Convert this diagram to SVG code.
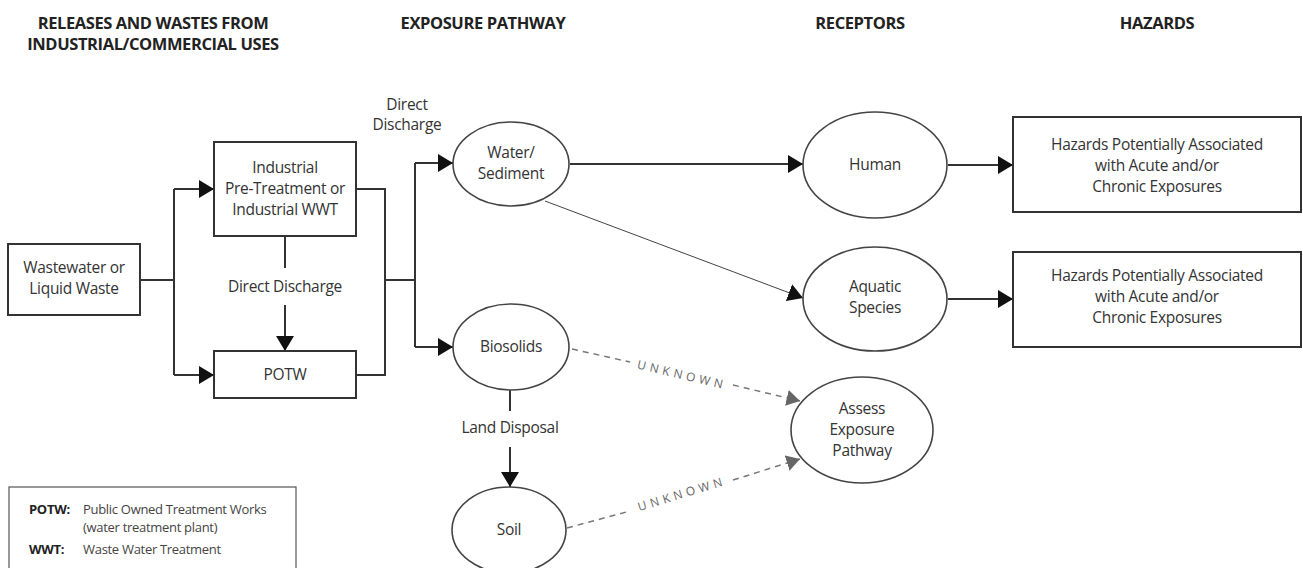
<svg xmlns="http://www.w3.org/2000/svg" width="1303" height="568" viewBox="0 0 1303 568">
<style>
.t{font-family:"Open Sans","Liberation Sans",sans-serif;font-size:15.5px;fill:#333;text-anchor:middle;letter-spacing:-0.3px}
.h{font-family:"Open Sans","Liberation Sans",sans-serif;font-size:16.5px;font-weight:bold;fill:#222;text-anchor:middle;letter-spacing:-0.4px}
.box{fill:#fff;stroke:#333;stroke-width:2}
.ell{fill:#fff;stroke:#444;stroke-width:1.6}
.c{fill:none;stroke:#333;stroke-width:2}
.thin{fill:none;stroke:#444;stroke-width:1}
.d{fill:none;stroke:#777;stroke-width:1.5;stroke-dasharray:6 5}
.u{font-family:"Open Sans","Liberation Sans",sans-serif;font-size:12px;fill:#666;text-anchor:middle;letter-spacing:4px}
.lg{font-family:"Open Sans","Liberation Sans",sans-serif;font-size:13px;fill:#444;letter-spacing:-0.3px}
.lb{font-family:"Open Sans","Liberation Sans",sans-serif;font-size:13px;fill:#222;font-weight:bold;letter-spacing:-0.3px}
</style>
<defs>
<marker id="a" viewBox="0 0 10 12" refX="10" refY="6" markerWidth="7.5" markerHeight="9" orient="auto" markerUnits="strokeWidth"><path d="M0,0 L10,6 L0,12 z" fill="#111"/></marker>
<marker id="ag" viewBox="0 0 10 12" refX="10" refY="6" markerWidth="9" markerHeight="10.8" orient="auto" markerUnits="strokeWidth"><path d="M0,0 L10,6 L0,12 z" fill="#666"/></marker>
<marker id="at" viewBox="0 0 10 12" refX="10" refY="6" markerWidth="15" markerHeight="18" orient="auto" markerUnits="strokeWidth"><path d="M0,0 L10,6 L0,12 z" fill="#111"/></marker>
</defs>
<rect width="1303" height="568" fill="#fff"/>
<g id="titles">
<text class="h" x="153" y="29">RELEASES AND WASTES FROM</text>
<text class="h" x="153" y="50">INDUSTRIAL/COMMERCIAL USES</text>
<text class="h" x="483" y="29">EXPOSURE PATHWAY</text>
<text class="h" x="860" y="29">RECEPTORS</text>
<text class="h" x="1157" y="29">HAZARDS</text>
</g>
<g id="connectors">
<path class="c" d="M140,280 H174 M174,189 V375"/>
<path class="c" d="M174,189 H214" marker-end="url(#a)"/>
<path class="c" d="M174,375 H214" marker-end="url(#a)"/>
<path class="c" d="M285,236 V268"/>
<path class="c" d="M285,305 V351" marker-end="url(#a)"/>
<path class="c" d="M356,189 H385 V375 H356 M385,280 H415 M415,163 V347"/>
<path class="c" d="M415,163 H453" marker-end="url(#a)"/>
<path class="c" d="M415,347 H453" marker-end="url(#a)"/>
<path class="c" d="M570,164 H803" marker-end="url(#a)"/>
<path class="thin" d="M545,201 L803,298" marker-end="url(#at)"/>
<path class="c" d="M948,165 H1013" marker-end="url(#a)"/>
<path class="c" d="M948,299 H1013" marker-end="url(#a)"/>
<path class="c" d="M510,390 V411"/>
<path class="c" d="M510,447 V487" marker-end="url(#a)"/>
<path class="d" d="M572,349 L630,362"/>
<path class="d" d="M733,385 L800,401" marker-end="url(#ag)"/>
<path class="d" d="M567,528 L630,511"/>
<path class="d" d="M733,480 L800,459" marker-end="url(#ag)"/>
<text class="t" x="407" y="110">Direct</text>
<text class="t" x="407" y="130">Discharge</text>
<text class="t" x="285" y="292">Direct Discharge</text>
<text class="t" x="510" y="433">Land Disposal</text>
<text class="u" transform="translate(682,375) rotate(13.4)" y="4">UNKNOWN</text>
<text class="u" transform="translate(682,494) rotate(-17)" y="4">UNKNOWN</text>
</g>
<g id="wastewater">
<rect class="box" x="8" y="244" width="132" height="71"/>
<text class="t" x="74" y="273">Wastewater or</text>
<text class="t" x="74" y="294">Liquid Waste</text>
</g>
<g id="industrial">
<rect class="box" x="214" y="142" width="142" height="94"/>
<text class="t" x="285" y="173">Industrial</text>
<text class="t" x="285" y="194">Pre-Treatment or</text>
<text class="t" x="285" y="215">Industrial WWT</text>
</g>
<g id="potw">
<rect class="box" x="214" y="351" width="142" height="47"/>
<text class="t" x="285" y="380">POTW</text>
</g>
<g id="water">
<ellipse class="ell" cx="511" cy="164" rx="58" ry="42"/>
<text class="t" x="511" y="158">Water/</text>
<text class="t" x="511" y="179">Sediment</text>
</g>
<g id="biosolids">
<ellipse class="ell" cx="511" cy="347" rx="58" ry="43"/>
<text class="t" x="511" y="352">Biosolids</text>
</g>
<g id="soil">
<ellipse class="ell" cx="509" cy="530" rx="57" ry="43"/>
<text class="t" x="509" y="535">Soil</text>
</g>
<g id="human">
<ellipse class="ell" cx="875" cy="165" rx="72" ry="53"/>
<text class="t" x="875" y="170">Human</text>
</g>
<g id="aquatic">
<ellipse class="ell" cx="875" cy="299" rx="72" ry="52"/>
<text class="t" x="875" y="292">Aquatic</text>
<text class="t" x="875" y="313">Species</text>
</g>
<g id="assess">
<ellipse class="ell" cx="862" cy="430" rx="71" ry="53"/>
<text class="t" x="862" y="414">Assess</text>
<text class="t" x="862" y="435">Exposure</text>
<text class="t" x="862" y="456">Pathway</text>
</g>
<g id="hazards1">
<rect class="box" x="1013" y="117" width="288" height="95"/>
<text class="t" x="1157" y="150">Hazards Potentially Associated</text>
<text class="t" x="1157" y="171">with Acute and/or</text>
<text class="t" x="1157" y="192">Chronic Exposures</text>
</g>
<g id="hazards2">
<rect class="box" x="1013" y="252" width="288" height="95"/>
<text class="t" x="1157" y="281">Hazards Potentially Associated</text>
<text class="t" x="1157" y="302">with Acute and/or</text>
<text class="t" x="1157" y="323">Chronic Exposures</text>
</g>
<g id="legend">
<rect x="9" y="487" width="287" height="90" fill="#fff" stroke="#555" stroke-width="1.2"/>
<text class="lb" x="29" y="514">POTW:</text>
<text class="lg" x="83" y="514">Public Owned Treatment Works</text>
<text class="lg" x="83" y="532">(water treatment plant)</text>
<text class="lb" x="29" y="554">WWT:</text>
<text class="lg" x="83" y="554">Waste Water Treatment</text>
</g>
</svg>
